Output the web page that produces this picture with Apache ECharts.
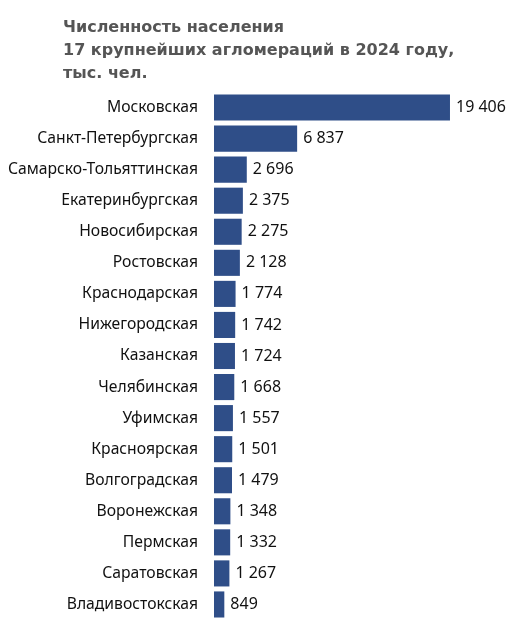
<!DOCTYPE html>
<html>
<head>
<meta charset="utf-8">
<script src="https://cdn.jsdelivr.net/npm/echarts@6/dist/echarts.min.js"></script>
<style>
  html, body { margin: 0; padding: 0; background: #fff; }
  #chart { width: 531px; height: 630px; }
</style>
</head>
<body>
<div id="chart"></div>
<script>
const regions = [
  'Московская', 'Санкт-Петербургская', 'Самарско-Тольяттинская', 'Екатеринбургская',
  'Новосибирская', 'Ростовская', 'Краснодарская', 'Нижегородская', 'Казанская',
  'Челябинская', 'Уфимская', 'Красноярская', 'Волгоградская', 'Воронежская',
  'Пермская', 'Саратовская', 'Владивостокская'
]
const population = [
  19406, 6837, 2696, 2375, 2275, 2128, 1774, 1742, 1724,
  1668, 1557, 1501, 1479, 1348, 1332, 1267, 849
]

const fmt = v => String(v).replace(/\B(?=(\d{3})+(?!\d))/g, ' ')

const chart = echarts.init(document.getElementById('chart'))

chart.setOption({
  animation: false,
  title: {
    text: 'Численность населения\n17 крупнейших агломераций в 2024 году,\nтыс. чел.',
    left: 58,
    top: 11,
    textStyle: {
      fontFamily: 'DejaVu Sans',
      fontSize: 16,
      fontWeight: 'bold',
      color: '#555555',
      lineHeight: 23
    }
  },
  grid: {
    left: 214,
    right: 13,
    top: 92,
    bottom: 10
  },
  xAxis: {
    type: 'value',
    min: 0,
    max: 25000,
    show: false
  },
  yAxis: {
    type: 'category',
    inverse: true,
    data: regions,
    axisLine: { show: false },
    axisTick: { show: false },
    axisLabel: {
      margin: 16,
      fontFamily: 'Noto Sans',
      fontSize: 15.7,
      color: '#111111'
    }
  },
  series: [
    {
      type: 'bar',
      barWidth: '84%',
      data: population,
      itemStyle: { color: '#2f4e88' },
      label: {
        show: true,
        position: 'right',
        distance: 6,
        fontFamily: 'Noto Sans',
        fontSize: 16,
        color: '#111111',
        formatter: p => fmt(p.value)
      }
    }
  ]
})
</script>
</body>
</html>
